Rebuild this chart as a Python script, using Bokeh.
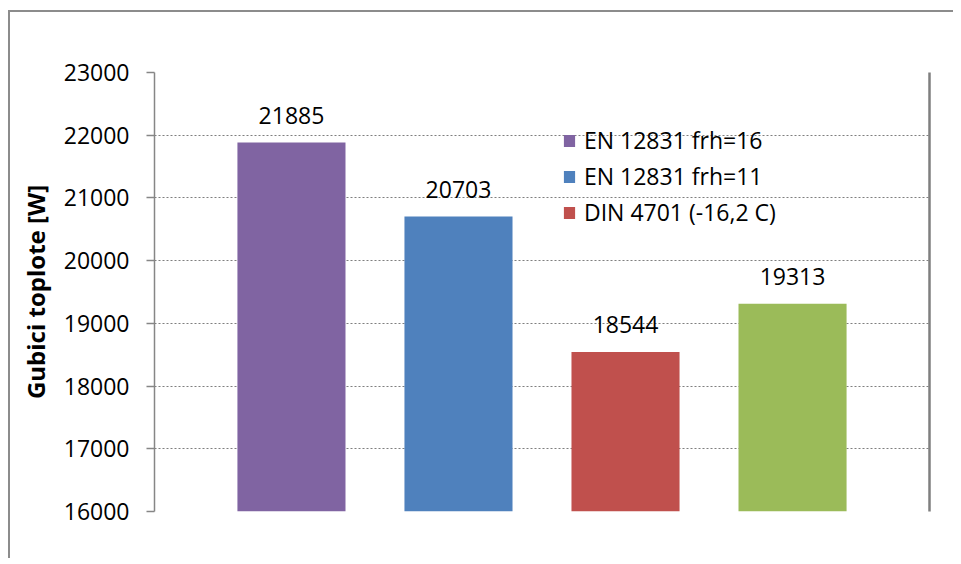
from bokeh.plotting import figure
from bokeh.models import (ColumnDataSource, Range1d, LinearAxis, LabelSet, Legend,
                          LegendItem, FixedTicker)
from bokeh.core.properties import value
from bokeh.embed import file_html
from bokeh.resources import INLINE

# ---- data ----
series_names = ["EN 12831 frh=16", "EN 12831 frh=11", "DIN 4701 (-16,2 C)", ""]
values = [21885, 20703, 18544, 19313]
positions = [1, 2, 3, 4]
colors = ["#8064A2", "#4F81BD", "#C0504D", "#9BBB59"]
y_ticks = [16000, 17000, 18000, 19000, 20000, 21000, 22000, 23000]
y_title = "Gubici toplote [W]"

FONT = "Open Sans"

src = ColumnDataSource(dict(x=positions, top=values, color=colors,
                            label=[str(v) for v in values], name=series_names))

p = figure(width=945, height=548, output_backend="svg", toolbar_location=None,
           x_range=Range1d(0.18, 4.82), y_range=Range1d(16000, 23000),
           min_border_left=144, min_border_right=26, min_border_top=60,
           min_border_bottom=49)
p.outline_line_color = None
p.background_fill_color = "white"
p.border_fill_color = "white"
p.styles = {"border-left": "2px solid #8c8c8c", "border-top": "2px solid #8c8c8c",
            "margin-left": "8px", "margin-top": "10px"}

r = p.vbar(x="x", top="top", bottom=16000, width=0.647, color="color", source=src,
           line_color=None)

# value labels
labels = LabelSet(x="x", y="top", text="label", source=src, y_offset=27,
                  text_align="center", text_baseline="middle",
                  text_font=value(FONT), text_font_size="23px", text_color="black")
p.add_layout(labels)

# axes
p.xaxis.visible = False
p.xgrid.visible = False
yax = p.yaxis[0]
yax.ticker = FixedTicker(ticks=y_ticks)
yax.axis_line_color = "#868686"
yax.axis_line_width = 1.5
yax.major_tick_line_color = "#868686"
yax.major_tick_line_width = 1.5
yax.major_tick_out = 8
yax.major_tick_in = 0
yax.minor_tick_line_color = None
yax.major_label_text_font = FONT
yax.major_label_text_font_size = "23px"
yax.major_label_text_color = "black"
yax.major_label_standoff = 17
yax.axis_label = y_title
yax.axis_label_text_font = FONT
yax.axis_label_text_font_style = "bold"
yax.axis_label_text_font_size = "24px"
yax.axis_label_text_color = "black"
yax.axis_label_standoff = 9

p.ygrid.ticker = FixedTicker(ticks=y_ticks)
p.ygrid.grid_line_color = "#7f7f7f"
p.ygrid.grid_line_dash = "2 2"
p.ygrid.grid_line_width = 1.2

right = LinearAxis(major_tick_line_color=None, minor_tick_line_color=None,
                   major_label_text_font_size="0px", axis_line_color="#7f7f7f",
                   axis_line_width=2.5)
right.ticker = FixedTicker(ticks=[])
p.add_layout(right, "right")

# legend (first three series)
items = [LegendItem(label=series_names[i], renderers=[r], index=i) for i in range(3)]
legend = Legend(items=items, location=(408, 283), orientation="vertical",
                label_text_font=FONT, label_text_font_size="23px",
                label_text_color="black", glyph_width=14, glyph_height=15,
                label_standoff=8, label_height=24, spacing=4, padding=0,
                margin=0, border_line_color=None, background_fill_alpha=0)
p.add_layout(legend, "center")

open("out.html", "w").write(file_html(p, INLINE))
